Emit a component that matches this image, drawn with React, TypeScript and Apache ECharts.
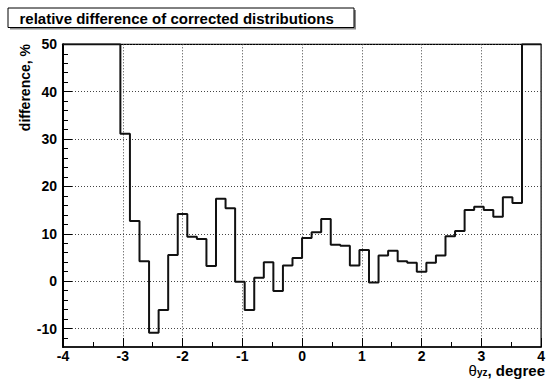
import React, { useEffect, useRef } from "react";
import * as echarts from "echarts";

// Histogram: 50 bins from -4 to 4
const binLowEdge = -4;
const binWidth = 0.16;
const binValues = [
  50, 50, 50, 50, 50, 50, 31.1, 12.7, 4.2, -10.9,
  -6.1, 5.5, 14.2, 9.4, 8.9, 3.2, 17.4, 15.4, -0.1, -6.1,
  0.7, 4.0, -2.1, 3.3, 4.9, 9.1, 10.3, 13.1, 7.7, 7.5,
  3.3, 6.6, -0.3, 5.4, 6.4, 4.2, 3.9, 2.0, 3.9, 5.4,
  9.5, 10.6, 15.0, 15.7, 15.0, 13.6, 17.7, 16.5, 50, 50,
];
const yMajorTicks = [-10, 0, 10, 20, 30, 40, 50];
const yMinorTicks = [-12, -8, -6, -4, -2, 2, 4, 6, 8, 12, 14, 16, 18, 22, 24, 26, 28, 32, 34, 36, 38, 42, 44, 46, 48];
const titleText = "relative difference of corrected distributions";
const yTitle = "difference, %";

const FONT = "'Liberation Sans', Arial, Helvetica, sans-serif";

export default function App() {
  const ref = useRef<HTMLDivElement>(null);
  useEffect(() => {
    if (!ref.current) return;
    const chart = echarts.init(ref.current, null, { renderer: "svg" });
    const data: number[][] = binValues.map((v, i) => [
      +(binLowEdge + i * binWidth).toFixed(4),
      v,
    ]);
    data.push([+(binLowEdge + binValues.length * binWidth).toFixed(4), binValues[binValues.length - 1]]);

    const tickLabel = { color: "#000", fontFamily: FONT, fontWeight: "bold" as const, fontSize: 14 };

    chart.setOption({
      animation: false,
      backgroundColor: "#fff",
      grid: {
        left: 63,
        right: 1.5,
        top: 44.3,
        bottom: 33,
        show: true,
        borderColor: "#000",
        borderWidth: 1.2,
        backgroundColor: "transparent",
      },
      xAxis: [
        {
          type: "value",
          min: -4,
          max: 4,
          interval: 1,
          axisLine: { show: true, onZero: false, lineStyle: { color: "#000", width: 1.5 } },
          axisTick: { show: true, inside: true, length: 9, lineStyle: { color: "#000", width: 1 } },
          minorTick: { show: true, splitNumber: 2, length: 5, lineStyle: { color: "#000", width: 1 } },
          axisLabel: { ...tickLabel, margin: 2, lineHeight: 13, showMinLabel: true, showMaxLabel: true },
          splitLine: { show: true, lineStyle: { color: "#444", type: [1, 2], width: 1 } },
        },
      ],
      yAxis: [
        {
          type: "value",
          min: -13.9,
          max: 50,
          axisLine: { show: true, onZero: false, lineStyle: { color: "#000", width: 2 } },
          axisTick: { show: true, inside: true, length: 9, customValues: yMajorTicks, lineStyle: { color: "#000", width: 1 } },
          axisLabel: { ...tickLabel, margin: 6, customValues: yMajorTicks },
          splitLine: { show: true, lineStyle: { color: "#444", type: [1, 2], width: 1 } },
        },
        {
          type: "value",
          min: -13.9,
          max: 50,
          position: "left",
          axisLine: { show: false, onZero: false },
          axisTick: { show: true, inside: true, length: 5, customValues: yMinorTicks, lineStyle: { color: "#000", width: 1 } },
          axisLabel: { show: false },
          splitLine: { show: false },
        },
      ],
      series: [
        {
          type: "line",
          step: "end",
          data,
          showSymbol: false,
          symbol: "none",
          clip: true,
          lineStyle: { color: "#111", width: 2 },
          z: 5,
        },
      ],
      graphic: [
        { type: "rect", shape: { x: 10, y: 10, width: 346, height: 19.5 }, style: { fill: "#8a8a8a" }, z: 10 },
        { type: "rect", shape: { x: 8, y: 8, width: 346, height: 19.5 }, style: { fill: "#fff", stroke: "#000", lineWidth: 1 }, z: 11 },
        {
          type: "text",
          x: 19.5,
          y: 18,
          z: 12,
          style: { text: titleText, fontFamily: FONT, fontWeight: "bold", fontSize: 15, fill: "#000", align: "left", verticalAlign: "middle" },
        },
        {
          type: "text",
          x: 25,
          y: 44,
          rotation: Math.PI / 2,
          z: 12,
          style: { text: yTitle, fontFamily: FONT, fontWeight: "bold", fontSize: 14, fill: "#000", align: "right", verticalAlign: "middle" },
        },
        {
          type: "text",
          x: 545,
          y: 370.5,
          z: 12,
          style: {
            text: "{t|θ}{s|yz}{b|, degree}",
            align: "right",
            verticalAlign: "middle",
            fill: "#000",
            rich: {
              t: { fontFamily: FONT, fontSize: 15, fontWeight: "normal", fill: "#000", lineHeight: 13, verticalAlign: "middle" },
              s: { fontFamily: FONT, fontSize: 10, fontWeight: "bold", fill: "#000", lineHeight: 13, verticalAlign: "bottom", padding: [5, 0, 0, 0] },
              b: { fontFamily: FONT, fontSize: 15, fontWeight: "bold", fill: "#000", lineHeight: 13, verticalAlign: "middle" },
            },
          },
        },
      ],
    });
    return () => chart.dispose();
  }, []);
  return (
    <div
      ref={ref}
      style={{ position: "fixed", left: 0, top: 0, width: 548, height: 380 }}
    />
  );
}
